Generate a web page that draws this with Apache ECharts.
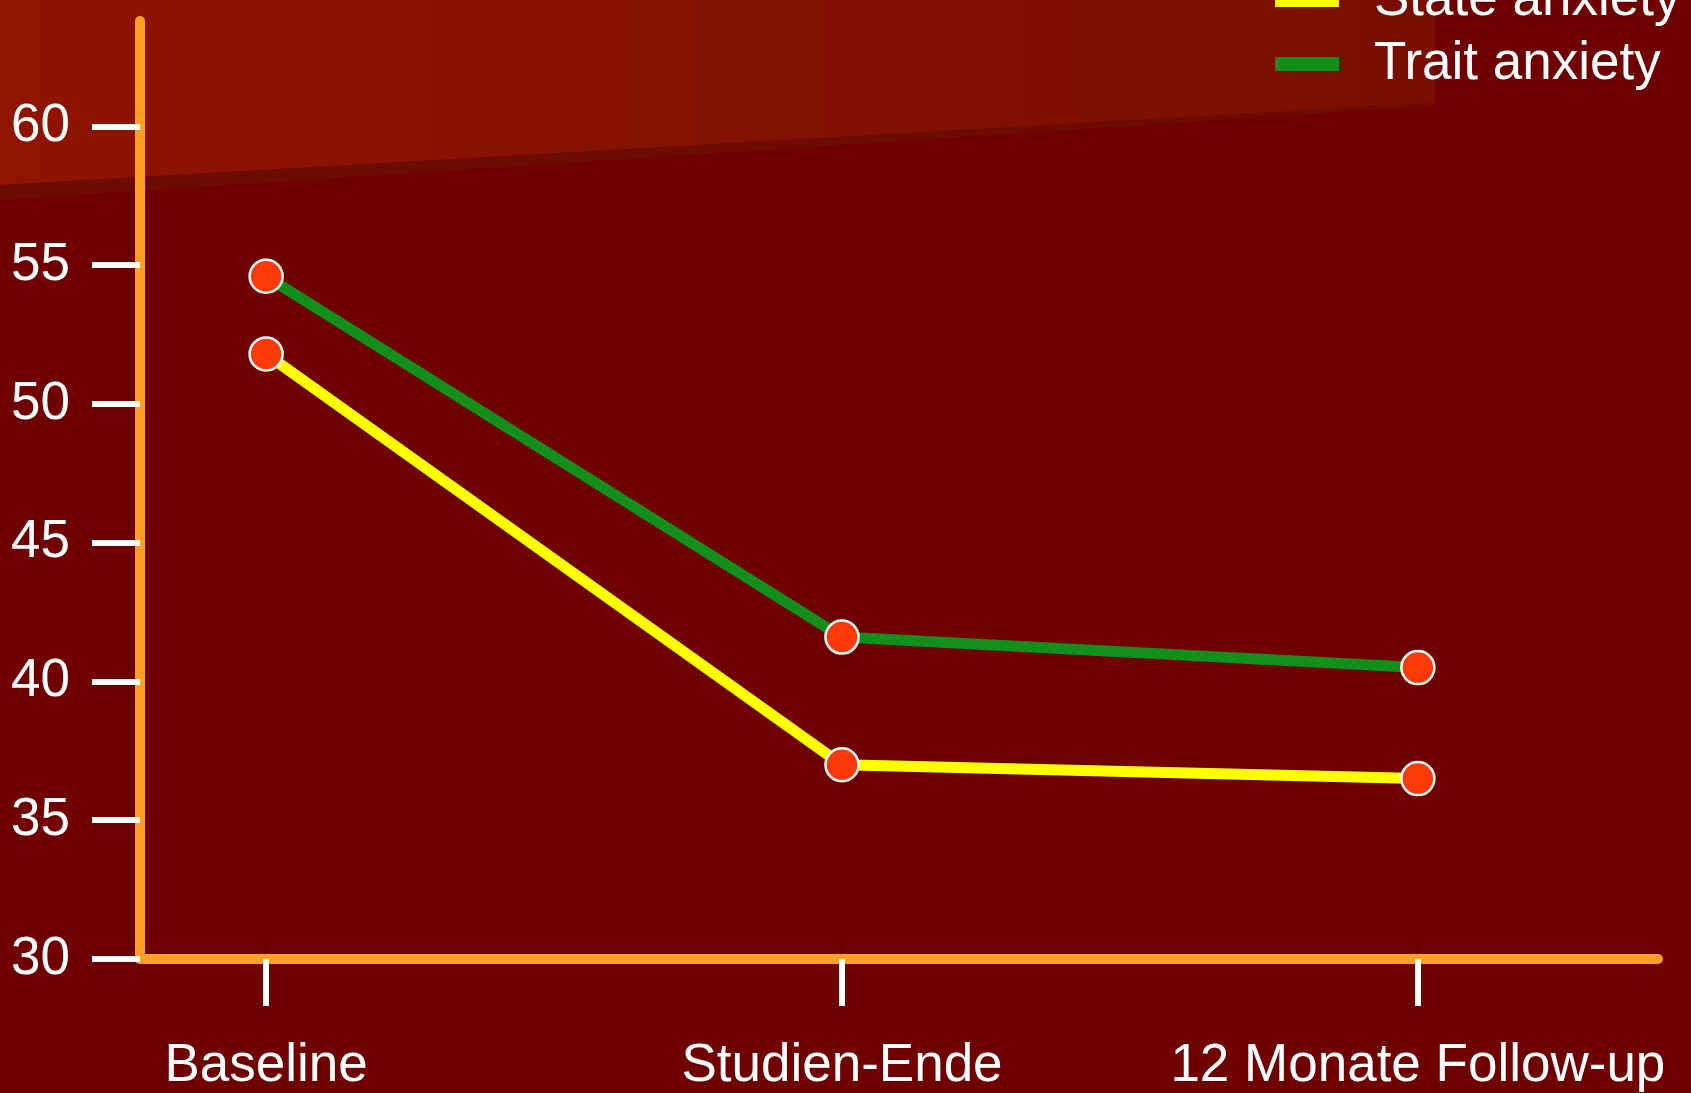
<!DOCTYPE html>
<html><head><meta charset="utf-8">
<script src="https://cdn.jsdelivr.net/npm/echarts@6/dist/echarts.min.js"></script>
<style>html,body{margin:0;padding:0;background:#700000;}#c{width:1691px;height:1093px;}</style>
</head><body><div id="c"></div>
<script>
const categories = ['Baseline', 'Studien-Ende', '12 Monate Follow-up'];
const stateAnxiety = [51.8, 37.0, 36.5];
const traitAnxiety = [54.6, 41.6, 40.5];
const yTickValues = [30, 35, 40, 45, 50, 55, 60];
const seriesNames = ['State anxiety', 'Trait anxiety'];
const seriesColors = ['#FFFF00', '#128E1A'];

const FONT = 'Liberation Sans, Arial, sans-serif';
const chart = echarts.init(document.getElementById('c'), null, {renderer: 'canvas'});

function makeSeries(name, values, color) {
  return {
    name: name,
    type: 'line',
    data: values.map((v, i) => [i, v]),
    symbol: 'circle',
    symbolSize: 33,
    lineStyle: {color: color, width: 11},
    itemStyle: {color: '#FF3A0A', borderColor: '#FFFFFF', borderWidth: 2.5},
    emphasis: {disabled: true},
    z: 5
  };
}

chart.setOption({
  animation: false,
  backgroundColor: '#700000',
  graphic: [
    {
      type: 'polygon', z: -10, silent: true,
      shape: {points: [[0, 0], [1435, 0], [1435, 103], [0, 185]]},
      style: {fill: new echarts.graphic.LinearGradient(0, 0, 1, 0, [
        {offset: 0, color: '#901400'}, {offset: 1, color: '#780E00'}])}
    },
    {
      type: 'polygon', z: -10, silent: true,
      shape: {points: [[0, 185], [1435, 103], [1435, 106], [0, 200]]},
      style: {fill: '#6C0B00'}
    }
  ],
  legend: {
    orient: 'vertical',
    left: 1275,
    top: -28,
    padding: 0,
    itemWidth: 64,
    itemHeight: 14,
    itemGap: 8,
    icon: 'rect',
    selectedMode: false,
    data: seriesNames.map((n, i) => ({name: n, itemStyle: {color: seriesColors[i], borderWidth: 0}})),
    textStyle: {color: '#FFFFFF', fontSize: 53, fontFamily: FONT, lineHeight: 56, padding: [0, 0, 0, 30]}
  },
  grid: {left: 140, right: 33, top: 21, bottom: 134, containLabel: false},
  xAxis: {
    type: 'value',
    min: -0.219,
    max: 2.417,
    splitLine: {show: false},
    axisLine: {show: true, onZero: false, lineStyle: {color: '#FFA022', width: 10}},
    axisTick: {show: true, length: 47, customValues: categories.map((c, i) => i),
      lineStyle: {color: '#FFFFFF', width: 6}},
    axisLabel: {
      customValues: categories.map((c, i) => i),
      formatter: v => categories[Math.round(v)] || '',
      color: '#FFFFFF', fontSize: 53, fontFamily: FONT, margin: 81
    }
  },
  yAxis: {
    type: 'value',
    min: 30,
    max: 63.8,
    splitLine: {show: false},
    axisLine: {show: true, onZero: false, lineStyle: {color: '#FFA022', width: 10}},
    axisTick: {show: true, length: 48, customValues: yTickValues,
      lineStyle: {color: '#FFFFFF', width: 6}},
    axisLabel: {customValues: yTickValues, color: '#FFFFFF', fontSize: 53, fontFamily: FONT, margin: 70}
  },
  series: [
    makeSeries(seriesNames[0], stateAnxiety, seriesColors[0]),
    makeSeries(seriesNames[1], traitAnxiety, seriesColors[1])
  ]
});
</script></body></html>
